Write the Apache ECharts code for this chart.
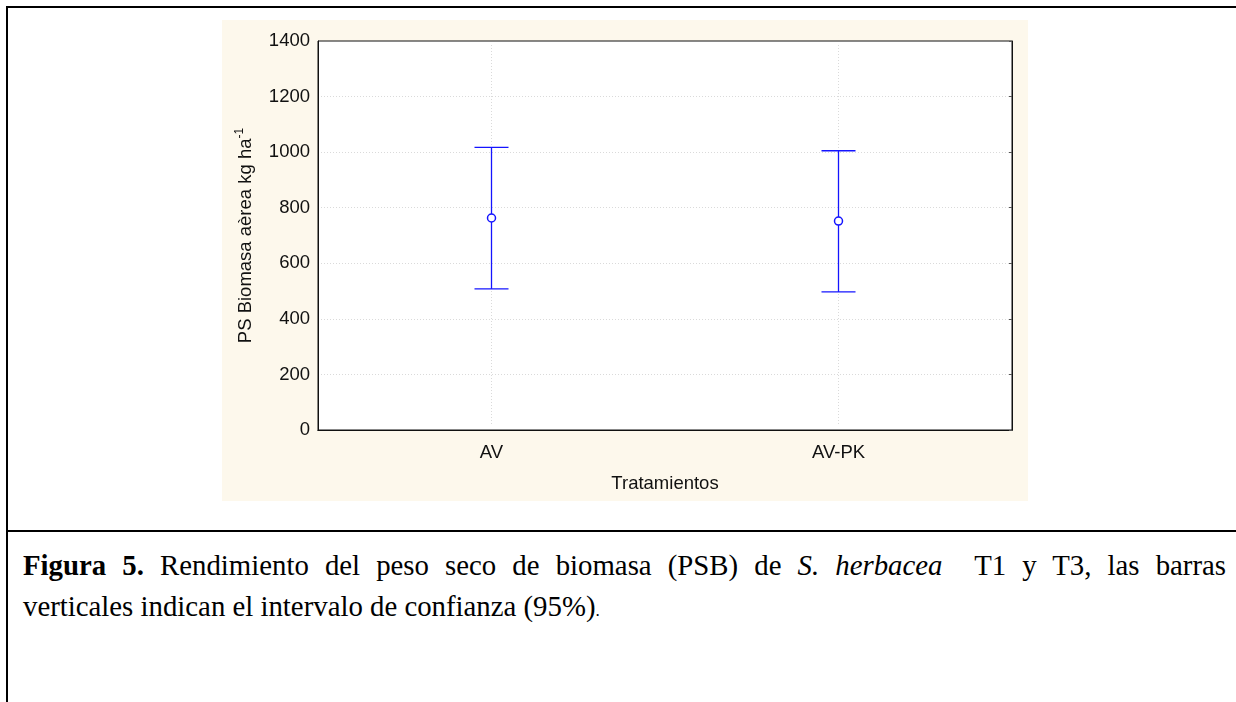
<!DOCTYPE html>
<html lang="es">
<head>
    <meta charset="utf-8" />
    <title>Figura 5</title>
    <script src="https://cdn.jsdelivr.net/npm/echarts@6/dist/echarts.min.js"></script>
    <style>
        html, body { margin: 0; padding: 0; background: #fff; }
        body { width: 1236px; height: 702px; position: relative; overflow: hidden; }
        .frame { position: absolute; left: 6px; top: 6px; width: 1240px; height: 710px;
                 border-top: 2px solid #000; border-left: 2px solid #000; }
        .rule { position: absolute; left: 6px; top: 530px; width: 1240px; height: 2px; background: #000; }
        .panel { position: absolute; left: 222px; top: 20px; width: 806px; height: 481px; background: #fdf8ec; }
        #chart { position: absolute; left: 222px; top: 20px; width: 806px; height: 481px; }
        .cap { position: absolute; left: 23px; width: 1203px; white-space: nowrap;
               font-family: "Liberation Serif", "Times New Roman", serif; font-size: 28.8px;
               line-height: 41px; color: #000; }
        .l1 { top: 545px; text-align: justify; text-align-last: justify; }
        .l2 { top: 586px; text-align: left; }
    </style>
</head>
<body>
<div class="frame"></div>
<div class="rule"></div>
<div class="panel"></div>
<div id="chart"></div>
<div class="cap l1"><b>Figura 5.</b> Rendimiento del peso seco de biomasa (PSB) de <i>S. herbacea</i>&nbsp; T1 y T3, las barras</div>
<div class="cap l2">verticales indican el intervalo de confianza (95%)<span style="font-size:17px">.</span></div>
<script type="text/javascript">
    // datos
    var categories = ['AV', 'AV-PK'];
    var means = [763, 752];
    var upper = [1017, 1005];
    var lower = [508, 497];
    var yTicks = [0, 200, 400, 600, 800, 1000, 1200, 1400];

    var barColor = '#1414ff';
    var rows = categories.map(function (c, i) { return [i, means[i], lower[i], upper[i]]; });

    function renderErr(params, api) {
        var cs = params.coordSys;
        var i = api.value(0);
        var pMean = api.coord([i, api.value(1)]);
        var pLow = api.coord([i, api.value(2)]);
        var pHigh = api.coord([i, api.value(3)]);
        var x = pMean[0];
        var half = 17;
        var st = { stroke: barColor, lineWidth: 1.3 };
        return {
            type: 'group',
            children: [
                // linea vertical punteada de la cuadricula
                { type: 'line', shape: { x1: x, y1: cs.y + 4, x2: x, y2: cs.y + cs.height - 4 },
                  style: { stroke: '#dadada', lineWidth: 1, lineDash: [1, 2] } },
                { type: 'line', shape: { x1: x, y1: pLow[1], x2: x, y2: pHigh[1] }, style: st },
                { type: 'line', shape: { x1: x - half, y1: pHigh[1], x2: x + half, y2: pHigh[1] }, style: st },
                { type: 'line', shape: { x1: x - half, y1: pLow[1], x2: x + half, y2: pLow[1] }, style: st },
                { type: 'circle', shape: { cx: x, cy: pMean[1], r: 4 },
                  style: { fill: '#fff', stroke: barColor, lineWidth: 1.5 } }
            ]
        };
    }

    var chart = echarts.init(document.getElementById('chart'), null, { renderer: 'canvas' });
    var font = 'Liberation Sans, Arial, sans-serif';
    var fs = 18.5;
    chart.setOption({
        animation: false,
        backgroundColor: 'transparent',
        grid: { left: 96, top: 21, width: 694, height: 389, show: true, containLabel: false,
                outerBoundsMode: 'none',
                backgroundColor: '#fff', borderColor: '#111', borderWidth: 1 },
        xAxis: [{
            type: 'category',
            data: categories,
            boundaryGap: true,
            name: 'Tratamientos',
            nameLocation: 'middle',
            nameGap: 44,
            nameTextStyle: { fontFamily: font, fontSize: fs, color: '#111' },
            axisLine: { lineStyle: { color: '#111', width: 1 } },
            axisTick: { alignWithLabel: true, inside: true, length: 4, lineStyle: { color: '#999' } },
            axisLabel: { fontFamily: font, fontSize: fs, color: '#111', margin: 13 },
            splitLine: { show: false }
        }, {
            type: 'category',
            data: categories,
            position: 'top',
            boundaryGap: true,
            axisLine: { lineStyle: { color: '#111', width: 1 } },
            axisTick: { alignWithLabel: true, inside: true, length: 4, lineStyle: { color: '#555' } },
            axisLabel: { show: false },
            splitLine: { show: false }
        }],
        yAxis: [{
            type: 'value',
            min: yTicks[0],
            max: yTicks[yTicks.length - 1],
            interval: 200,
            name: '{a|PS Biomasa aèrea kg ha}{b|-1}',
            nameLocation: 'middle',
            nameGap: 60,
            nameTextStyle: {
                color: '#111',
                rich: {
                    a: { fontFamily: font, fontSize: fs, lineHeight: 24, color: '#111' },
                    b: { fontFamily: font, fontSize: 12, lineHeight: 24, verticalAlign: 'top', color: '#111' }
                }
            },
            axisLine: { show: true, lineStyle: { color: '#111', width: 1 } },
            axisTick: { show: false },
            axisLabel: { fontFamily: font, fontSize: fs, color: '#111', margin: 8,
                         formatter: function (v) { return String(v); } },
            splitLine: { show: true, showMinLine: false, showMaxLine: false,
                         lineStyle: { color: '#dadada', type: [1, 2] } }
        }, {
            type: 'value',
            position: 'right',
            min: yTicks[0],
            max: yTicks[yTicks.length - 1],
            interval: 200,
            axisLine: { show: true, lineStyle: { color: '#111' } },
            axisTick: { show: true, inside: true, length: 3, lineStyle: { color: '#555' } },
            axisLabel: { show: false },
            splitLine: { show: false }
        }],
        series: [{
            type: 'custom',
            renderItem: renderErr,
            encode: { x: 0, y: [1, 2, 3] },
            data: rows,
            z: 5
        }]
    });
</script>
</body>
</html>
